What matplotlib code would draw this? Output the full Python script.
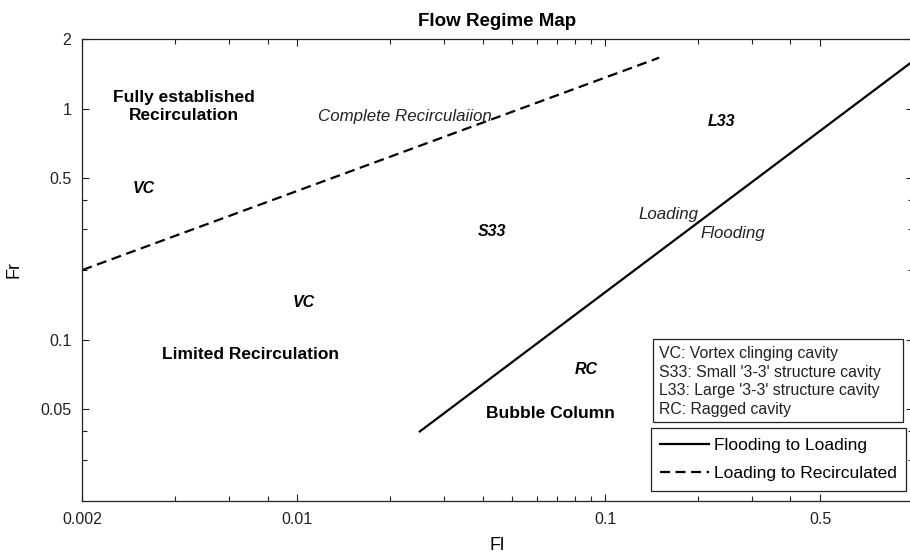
import matplotlib
matplotlib.use('Agg')
import matplotlib.pyplot as plt
from matplotlib.patches import Rectangle

plt.rcParams['font.family'] = ['Liberation Sans', 'DejaVu Sans']

# boundary lines (Fl, Fr)
flood_fl = [0.025, 1.0]
flood_fr = [0.04, 1.6]
recirc_fl = [0.002, 0.15]
recirc_fr = [0.2, 1.66]

x_major = [0.002, 0.01, 0.1, 0.5]
x_labels = ['0.002', '0.01', '0.1', '0.5']
x_minor = [0.004, 0.006, 0.008, 0.02, 0.03, 0.04, 0.05, 0.06, 0.07, 0.08, 0.09, 0.2, 0.3, 0.4]
y_major = [0.05, 0.1, 0.5, 1, 2]
y_labels = ['0.05', '0.1', '0.5', '1', '2']
y_minor = [0.03, 0.04, 0.2, 0.3, 0.4]

key_lines = ["VC: Vortex clinging cavity",
             "S33: Small '3-3' structure cavity",
             "L33: Large '3-3' structure cavity",
             "RC: Ragged cavity"]

fig = plt.figure(figsize=(9.1, 5.56), dpi=100)
ax = fig.add_axes([0.09055, 0.09892, 0.91231, 0.83094])

ax.plot(flood_fl, flood_fr, color='black', lw=1.6, label='Flooding to Loading')
ax.plot(recirc_fl, recirc_fr, color='black', lw=1.6, linestyle=(0, (4.5, 2.5)),
        label='Loading to Recirculated')

ax.set_xscale('log')
ax.set_yscale('log')
ax.set_xlim(0.002, 1.0)
ax.set_ylim(0.02, 2)

ax.set_xticks(x_major)
ax.set_xticklabels(x_labels)
ax.set_xticks(x_minor, minor=True)
ax.set_xticklabels([], minor=True)
ax.set_yticks(y_major)
ax.set_yticklabels(y_labels)
ax.set_yticks(y_minor, minor=True)
ax.set_yticklabels([], minor=True)
ax.tick_params(which='both', direction='in', top=True, right=True, width=0.8,
               colors='#222222', labelsize=11.5, pad=8)
ax.tick_params(which='major', length=5)
ax.tick_params(which='minor', length=3.3)
for s in ax.spines.values():
    s.set_color('#222222')
    s.set_linewidth(0.9)

ax.set_xlabel('Fl', fontsize=13, labelpad=7)
ax.set_ylabel('Fr', fontsize=13, labelpad=13)
ax.set_title('Flow Regime Map', fontsize=13.5, fontweight='bold', pad=9)

bold = dict(fontsize=12.5, fontweight='bold')
bi = dict(fontsize=11.5, fontweight='bold', style='italic')
it = dict(fontsize=12.2, style='italic', color='#222222')

ax.text(0.004265, 1.022, 'Fully established\nRecirculation', ha='center', va='center',
        linespacing=1.2, **bold)
ax.text(0.00316, 0.432, 'VC', ha='center', va='baseline', **bi)
ax.text(0.01167, 0.885, 'Complete Recirculaiion', ha='left', va='baseline', **it)
ax.text(0.2391, 0.8418, 'L33', ha='center', va='baseline', **bi)
ax.text(0.04276, 0.2803, 'S33', ha='center', va='baseline', **bi)
ax.text(0.1603, 0.3335, 'Loading', ha='center', va='baseline', **it)
ax.text(0.2597, 0.2761, 'Flooding', ha='center', va='baseline', **it)
ax.text(0.01047, 0.1389, 'VC', ha='center', va='baseline', **bi)
ax.text(0.007015, 0.08277, 'Limited Recirculation', ha='center', va='baseline', **bold)
ax.text(0.0868, 0.07092, 'RC', ha='center', va='baseline', **bi)
ax.text(0.06649, 0.04555, 'Bubble Column', ha='center', va='baseline', **bold)

# key box
ax.add_patch(Rectangle((0.6873, 0.171), 0.3011, 0.1796, transform=ax.transAxes,
                       facecolor='white', edgecolor='#222222', lw=0.9, zorder=4))
ax.text(0.6945, 0.2587, '\n'.join(key_lines), transform=ax.transAxes, ha='left',
        va='center', fontsize=11.4, linespacing=1.33, color='#222222', zorder=5)

leg = ax.legend(loc='upper left', bbox_to_anchor=(0.6845, 0.1574), borderaxespad=0,
                fontsize=12.5, handlelength=2.83, handletextpad=0.27, borderpad=0.55,
                labelspacing=0.75, fancybox=False, framealpha=1)
leg.get_frame().set_edgecolor('#222222')
leg.get_frame().set_linewidth(0.9)

fig.savefig('out.png', dpi=100)
